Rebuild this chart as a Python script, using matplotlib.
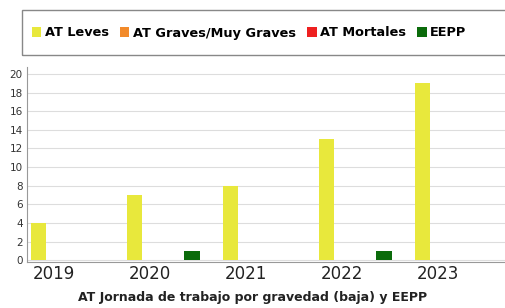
import numpy as np
import matplotlib
matplotlib.use('Agg')
from matplotlib import pyplot as plt
from matplotlib.patches import Patch, Rectangle

years = ['2019', '2020', '2021', '2022', '2023']
series_names = ['AT Leves', 'AT Graves/Muy Graves', 'AT Mortales', 'EEPP']
series_colors = ['#e8e83c', '#f28a2a', '#ee2020', '#0b6b0b']
leves = [4, 7, 8, 13, 19]
graves = [0, 0, 0, 0, 0]
mortales = [0, 0, 0, 0, 0]
eepp = [0, 1, 0, 1, 0]
yticks = list(range(0, 21, 2))

plt.rcParams['font.family'] = 'DejaVu Sans'

fig = plt.figure(figsize=(5.05, 3.08), dpi=100)
ax = fig.add_axes([27 / 505, 46 / 308, 1 - 27 / 505, (262 - 67) / 308])

x = np.arange(len(years))
slot = 0.2
width = 0.16
for k, (vals, col) in enumerate(zip([leves, graves, mortales, eepp], series_colors)):
    ax.bar(x + k * slot, vals, width, align='edge', color=col, zorder=3)

ax.set_xlim(-0.04, 4.94)
ax.set_ylim(-0.2, 20.75)
ax.set_yticks(yticks)
ax.set_yticklabels([str(t) for t in yticks], fontsize=7.5, color='#333333')
ax.set_xticks(x + 0.24)
ax.set_xticklabels(years, fontsize=12, color='#222222')
ax.tick_params(axis='y', length=0, pad=3)
ax.tick_params(axis='x', length=0, pad=2)
ax.grid(axis='y', color='#dddddd', linewidth=0.8, zorder=0)
for s in ['top', 'right']:
    ax.spines[s].set_visible(False)
ax.spines['left'].set_color('#999999')
ax.spines['bottom'].set_color('#999999')

fig.text(0.5, 11 / 308, 'AT Jornada de trabajo por gravedad (baja) y EEPP',
         ha='center', va='center', fontsize=9, fontweight='bold', color='#222222')

# legend box across the top
fig.patches.append(Rectangle((22 / 505, 1 - 55 / 308), 1.0, 45 / 308,
                             transform=fig.transFigure, fill=False,
                             edgecolor='#888888', linewidth=1.0))
handles = [Patch(facecolor=c, edgecolor='none') for c in series_colors]
fig.legend(handles, series_names, loc='center left',
           bbox_to_anchor=(32 / 505, 1 - 33 / 308), ncol=4, frameon=False,
           prop={'size': 9.3, 'weight': 'bold'}, handlelength=0.72,
           handleheight=0.72, handletextpad=0.25, columnspacing=0.9,
           borderpad=0, borderaxespad=0)

fig.savefig('out.png', dpi=100)
